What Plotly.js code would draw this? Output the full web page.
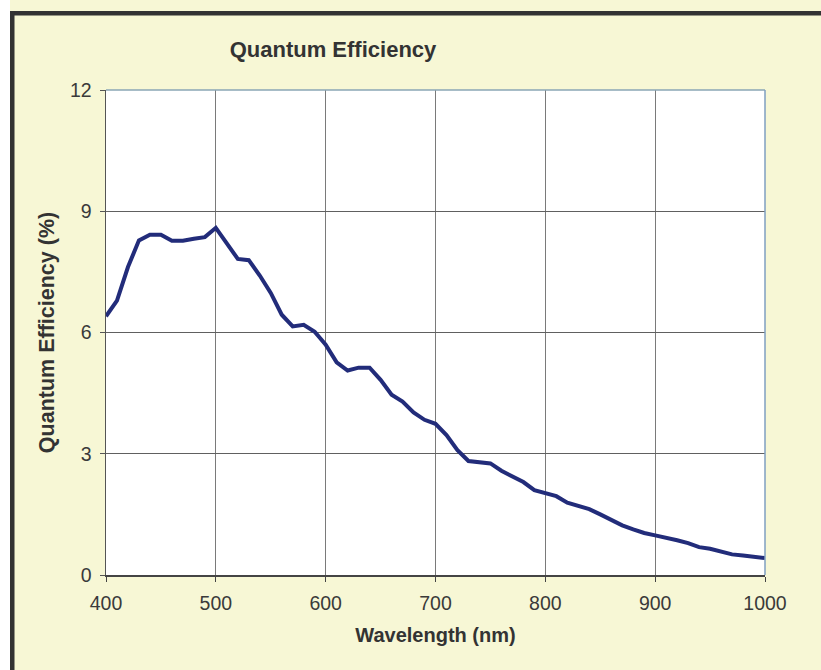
<!DOCTYPE html>
<html>
<head>
<meta charset="utf-8">
<script src="https://cdn.plot.ly/plotly-3.0.1.min.js"></script>
<style>html,body{margin:0;padding:0;background:#fff;}#chart{width:821px;height:670px;}</style>
</head>
<body>
<div id="chart"></div>
<script>
var wavelength = [400,410,420,430,440,450,460,470,480,490,500,510,520,530,540,550,560,570,580,590,600,610,620,630,640,650,660,670,680,690,700,710,720,730,740,750,760,770,780,790,800,810,820,830,840,850,860,870,880,890,900,910,920,930,940,950,960,970,980,990,1000];
var qe = [6.40,6.79,7.62,8.28,8.42,8.42,8.27,8.27,8.32,8.36,8.59,8.22,7.82,7.79,7.41,6.98,6.44,6.15,6.19,6.02,5.70,5.26,5.06,5.13,5.13,4.83,4.46,4.29,4.02,3.84,3.74,3.46,3.09,2.82,2.80,2.76,2.58,2.44,2.30,2.10,2.03,1.95,1.79,1.70,1.63,1.50,1.36,1.23,1.13,1.04,0.98,0.93,0.86,0.79,0.69,0.65,0.57,0.51,0.48,0.46,0.42];
var xTicks = [400,500,600,700,800,900,1000];
var yTicks = [0,3,6,9,12];
var chartTitle = "Quantum Efficiency";
var xTitle = "Wavelength (nm)";
var yTitle = "Quantum Efficiency (%)";

var W = 821, H = 670;
var mL = 106, mR = 56, mT = 90, mB = 95;
var pw = W - mL - mR, ph = H - mT - mB;
function px(x){ return (x - mL) / pw; }
function py(y){ return (H - mB - y) / ph; }

var font = "Liberation Sans, Arial, sans-serif";
var trace = {
  x: wavelength, y: qe, type: 'scatter', mode: 'lines',
  line: {color: '#222c7a', width: 4}, hoverinfo: 'x+y'
};
var layout = {
  width: W, height: H,
  margin: {l: mL, r: mR, t: mT, b: mB, pad: 0},
  paper_bgcolor: '#f7f7d5',
  plot_bgcolor: '#ffffff',
  showlegend: false,
  font: {family: font, color: '#3a3a3a', size: 19},
  title: {text: '<b>' + chartTitle + '</b>', font: {family: font, size: 22, color: '#333333'},
          x: 333 / W, xanchor: 'center', xref: 'container', y: 1 - 49 / H, yanchor: 'middle', yref: 'container'},
  xaxis: {
    range: [400, 1000], tickvals: xTicks, ticktext: xTicks.map(String),
    showgrid: true, gridcolor: '#7a7a7a', gridwidth: 1,
    showline: true, linecolor: '#444444', linewidth: 1.5,
    ticks: 'outside', ticklen: 5, tickcolor: '#444444', tickwidth: 1,
    ticklabelstandoff: 5,
    tickfont: {family: font, size: 19.5, color: '#3a3a3a'},
    zeroline: false, automargin: false,
    title: {text: '<b>' + xTitle + '</b>', font: {family: font, size: 20, color: '#333333'}, standoff: 15}
  },
  yaxis: {
    range: [0, 12], tickvals: yTicks, ticktext: yTicks.map(String),
    showgrid: true, gridcolor: '#606060', gridwidth: 1,
    showline: true, linecolor: '#555555', linewidth: 1.5,
    ticks: 'outside', ticklen: 5, tickcolor: '#555555', tickwidth: 1,
    ticklabelstandoff: 4,
    tickfont: {family: font, size: 19.5, color: '#3a3a3a'},
    zeroline: false, automargin: false,
    title: {text: '<b>' + yTitle + '</b>', font: {family: font, size: 21.5, color: '#333333'}, standoff: 9}
  },
  shapes: [
    {type: 'line', xref: 'paper', yref: 'paper', x0: 0, x1: 1, y0: 1, y1: 1, line: {color: '#8aa6b4', width: 1.5}, layer: 'above'},
    {type: 'line', xref: 'paper', yref: 'paper', x0: 1, x1: 1, y0: 0, y1: 1, line: {color: '#7f9fc0', width: 1.5}, layer: 'above'},
    {type: 'rect', xref: 'paper', yref: 'paper', x0: px(-5), x1: px(W + 5), y0: py(0), y1: py(-10), line: {width: 0}, fillcolor: '#ffffff', layer: 'above'},
    {type: 'rect', xref: 'paper', yref: 'paper', x0: px(-10), x1: px(10), y0: py(-10), y1: py(H + 10), line: {width: 0}, fillcolor: '#ffffff', layer: 'above'},
    {type: 'rect', xref: 'paper', yref: 'paper', x0: px(10), x1: px(W + 5), y0: py(11), y1: py(15.5), line: {width: 0}, fillcolor: '#333333', layer: 'above'},
    {type: 'rect', xref: 'paper', yref: 'paper', x0: px(10), x1: px(14.5), y0: py(11), y1: py(H + 10), line: {width: 0}, fillcolor: '#333333', layer: 'above'}
  ]
};
Plotly.newPlot('chart', [trace], layout, {displayModeBar: false, staticPlot: true});
</script>
</body>
</html>
